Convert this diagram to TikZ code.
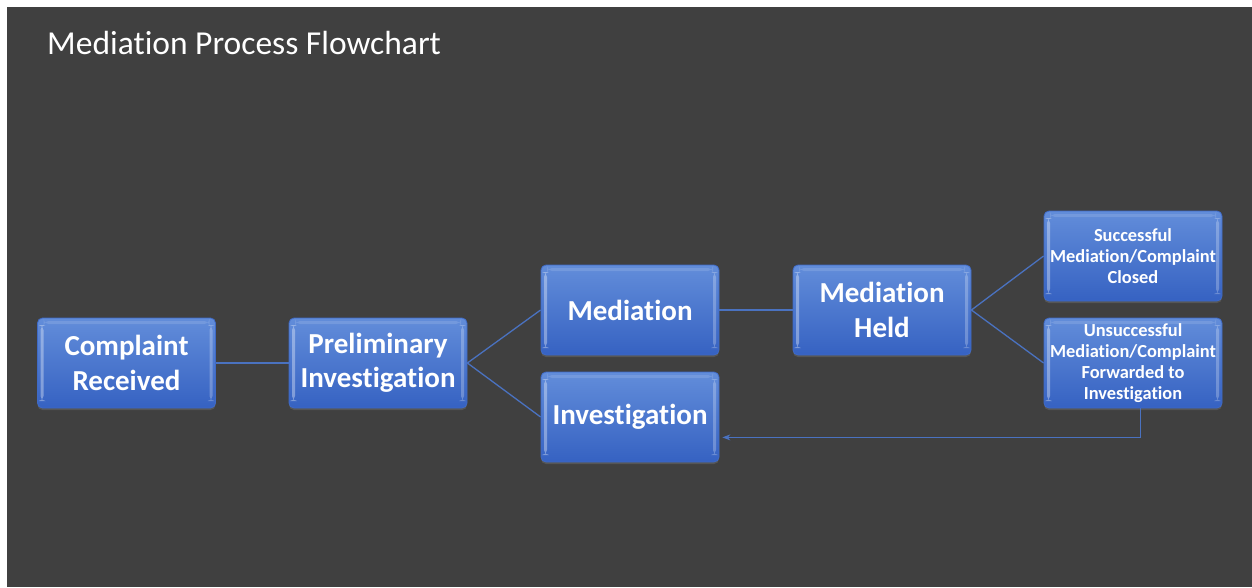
\documentclass[tikz,border=0pt]{standalone}
\usepackage{fontspec}
\setmainfont{Carlito}[RawFeature={-liga;-clig;-dlig}]
\usetikzlibrary{arrows.meta,shadows}
\definecolor{bgdark}{HTML}{404040}
\definecolor{boxtop}{HTML}{628DDA}
\definecolor{boxbot}{HTML}{3662C2}
\definecolor{boxedge}{HTML}{3F6AC6}
\definecolor{linkblue}{HTML}{4A72C0}
\tikzset{
  stepbox/.style={rectangle, rounded corners=5pt, minimum width=178pt, minimum height=90pt,
    top color=boxtop, bottom color=boxbot, draw=boxedge, line width=0.8pt,
    text=white, align=center, inner sep=1pt, font=\bfseries,
    drop shadow={shadow xshift=0pt, shadow yshift=-2pt, opacity=0.35},
    path picture={
      \fill[white,opacity=0.35] ([xshift=3pt,yshift=-7pt]path picture bounding box.north west) rectangle ([xshift=6pt,yshift=7pt]path picture bounding box.south west);
      \fill[white,opacity=0.25] ([xshift=-6pt,yshift=-7pt]path picture bounding box.north east) rectangle ([xshift=-3pt,yshift=7pt]path picture bounding box.south east);
      \fill[white,opacity=0.12] ([xshift=6pt,yshift=-3pt]path picture bounding box.north west) rectangle ([xshift=-6pt,yshift=-6pt]path picture bounding box.north east);
    }},
  bigtext/.style={font=\fontsize{29}{34.5}\selectfont\bfseries},
  smalltext/.style={font=\fontsize{18.4}{21}\selectfont\bfseries},
  conn/.style={draw=linkblue, line width=1.3pt}
}
\begin{document}
\begin{tikzpicture}[x=1pt,y=-1pt]
\useasboundingbox (0,0) rectangle (1252,587);
\fill[white] (0,0) rectangle (1252,587);
\fill[bgdark] (7,7) rectangle (1252,587);
\node[anchor=base west, text=white, font=\fontsize{33.5}{38}\selectfont, inner sep=0pt] (title) at (47,54.5) {Mediation Process Flowchart};

\node[stepbox,bigtext] (cr) at (126.5,363) {Complaint\\Received};
\node[stepbox,bigtext] (pi) at (378,363) {Preliminary\\Investigation};
\node[stepbox,bigtext] (med) at (630,310) {Mediation};
\node[stepbox,bigtext] (inv) at (630,417) {Investigation};
\node[stepbox,bigtext] (mh) at (882,310) {Mediation\\Held};
\node[stepbox,smalltext] (succ) at (1133,256) {Successful\\Mediation/Complaint\\Closed};
\node[stepbox,smalltext] (uns) at (1133,363) {Unsuccessful\\Mediation/Complaint\\Forwarded to\\Investigation};

\draw[conn] (cr.east) -- (pi.west);
\draw[conn] (pi.east) -- (med.west);
\draw[conn] (pi.east) -- (inv.west);
\draw[conn] (med.east) -- (mh.west);
\draw[conn] (mh.east) -- (succ.west);
\draw[conn] (mh.east) -- (uns.west);
\coordinate (unsout) at ([xshift=7pt]uns.south);
\coordinate (turn) at ([yshift=-29pt]unsout);
\draw[conn, line width=1pt, -{Stealth[length=8pt,width=6pt]}, shorten >=3pt] (unsout) -- (turn) -- (turn -| inv.east);
\end{tikzpicture}
\end{document}
